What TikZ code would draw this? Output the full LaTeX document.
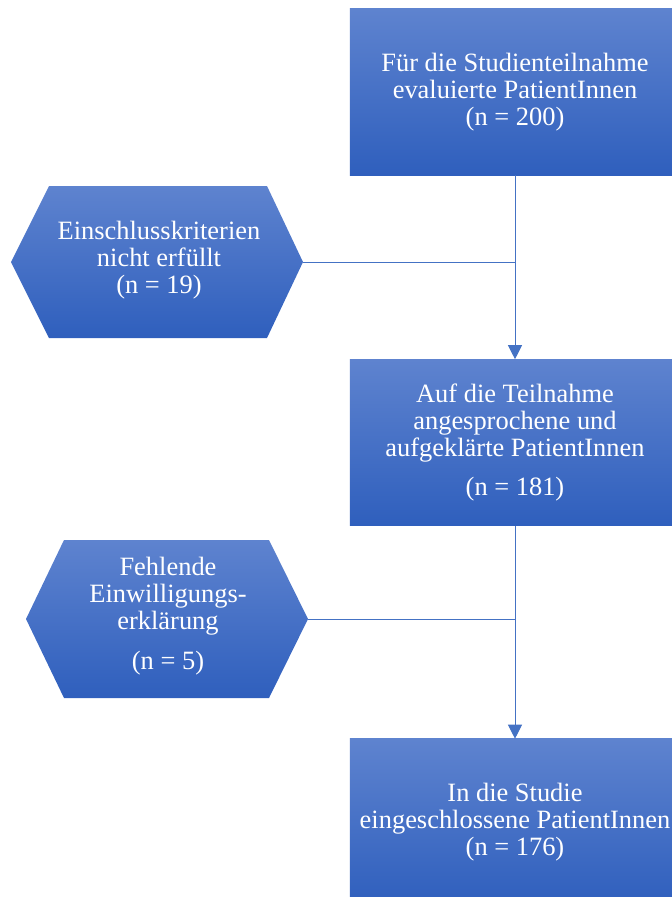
\documentclass[tikz,border=0pt]{standalone}
\usepackage{fontspec}
\setmainfont{Liberation Serif}
\usetikzlibrary{arrows.meta}
\definecolor{boxtop}{RGB}{94,131,207}
\definecolor{boxbot}{RGB}{47,95,189}
\definecolor{linecol}{RGB}{68,114,196}
\tikzstyle{stepbox}=[rectangle,top color=boxtop,bottom color=boxbot,minimum width=8.25cm,minimum height=4.15cm,inner sep=0pt,text=white,align=center,font=\fontsize{18.8}{19.3}\selectfont]
\tikzstyle{exctext}=[inner sep=0pt,text=white,align=center,font=\fontsize{18.8}{19.3}\selectfont]
\tikzstyle{hexfill}=[top color=boxtop,bottom color=boxbot]
\tikzstyle{flow}=[linecol,line width=0.7pt,-{Triangle[length=10pt,width=10pt]}]
\tikzstyle{link}=[linecol,line width=0.7pt]

\begin{document}
\begin{tikzpicture}[x=0.025cm,y=-0.025cm]
\clip (0,0) rectangle (672,897);
\shade[hexfill] (11,262) -- (49,186) -- (267,186) -- (303,262) -- (267,338) -- (49,338) -- cycle;
\shade[hexfill] (26,619) -- (64,540) -- (269,540) -- (308,619) -- (269,698) -- (64,698) -- cycle;
\node[stepbox] (eval) at (515,92) {Für die Studienteilnahme\\evaluierte PatientInnen\\(n = 200)};
\node[stepbox] (info) at (515,442.5) {Auf die Teilnahme\\angesprochene und\\aufgeklärte PatientInnen\\[0.45em](n = 181)};
\node[stepbox] (incl) at (515,822) {In die Studie\\eingeschlossene PatientInnen\\(n = 176)};
\node[exctext] (crit) at (159,260) {Einschlusskriterien\\nicht erfüllt\\(n = 19)};
\node[exctext] (cons) at (168,616) {Fehlende\\Einwilligungs-\\erklärung\\[0.45em](n = 5)};
\coordinate (critR) at (303,262);
\coordinate (consR) at (308,619);
\draw[flow] (eval) -- (info);
\draw[flow] (info) -- (incl);
\draw[link] (critR) -- (critR -| eval);
\draw[link] (consR) -- (consR -| info);
\end{tikzpicture}
\end{document}
